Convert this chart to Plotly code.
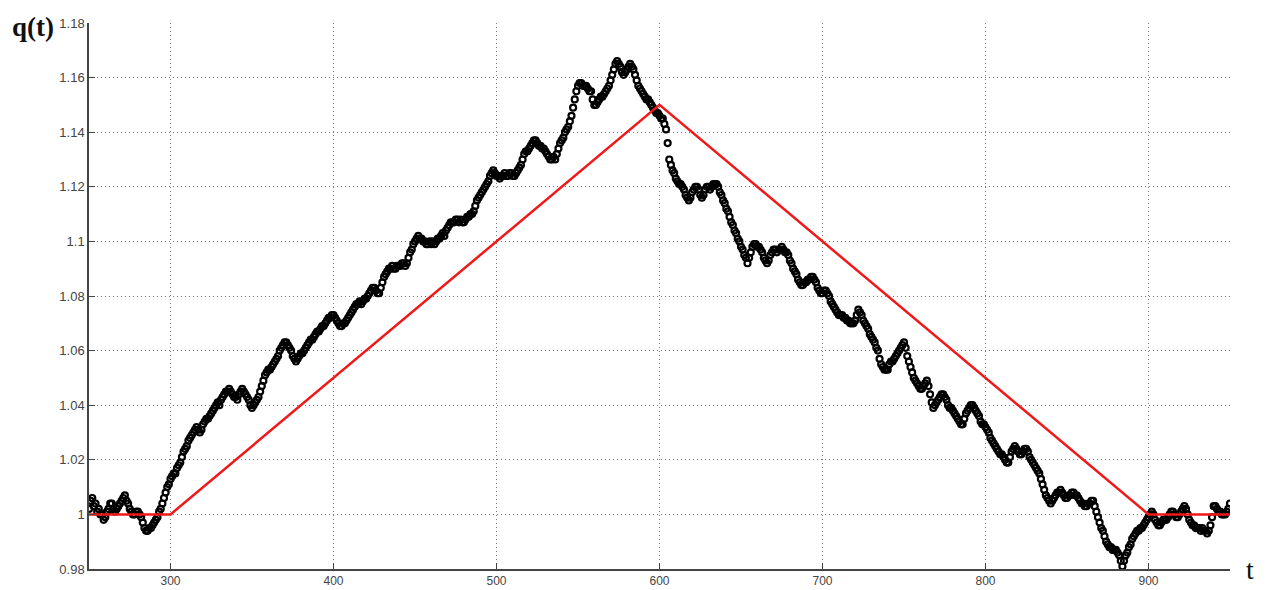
import plotly.graph_objects as go

# Observed trajectory q(t), one sample per time step from t = 250 to t = 950
t_start = 250
q_observed = [
    1.002, 1.005, 1.006, 1.003, 1.004, 1.001, 1.002, 1.000, 1.000, 0.998,  # 250
    0.999, 1.001, 1.002, 1.004, 1.004, 1.002, 1.001, 1.002, 1.003, 1.004,  # 260
    1.005, 1.006, 1.007, 1.005, 1.004, 1.002, 1.001, 1.000, 1.000, 1.001,  # 270
    1.001, 1.000, 0.999, 0.997, 0.995, 0.994, 0.994, 0.995, 0.995, 0.996,  # 280
    0.997, 0.998, 0.999, 1.001, 1.002, 1.004, 1.006, 1.008, 1.010, 1.011,  # 290
    1.013, 1.014, 1.015, 1.015, 1.017, 1.018, 1.019, 1.021, 1.023, 1.024,  # 300
    1.025, 1.027, 1.028, 1.029, 1.030, 1.031, 1.032, 1.031, 1.030, 1.031,  # 310
    1.033, 1.034, 1.035, 1.035, 1.036, 1.037, 1.038, 1.039, 1.040, 1.041,  # 320
    1.040, 1.042, 1.043, 1.044, 1.045, 1.045, 1.046, 1.045, 1.044, 1.043,  # 330
    1.043, 1.042, 1.044, 1.045, 1.046, 1.045, 1.044, 1.043, 1.042, 1.040,  # 340
    1.039, 1.040, 1.041, 1.042, 1.043, 1.045, 1.047, 1.049, 1.051, 1.052,  # 350
    1.053, 1.053, 1.054, 1.055, 1.056, 1.057, 1.058, 1.060, 1.061, 1.062,  # 360
    1.063, 1.063, 1.062, 1.061, 1.060, 1.058, 1.057, 1.056, 1.057, 1.058,  # 370
    1.059, 1.059, 1.060, 1.061, 1.062, 1.063, 1.064, 1.064, 1.065, 1.066,  # 380
    1.067, 1.067, 1.068, 1.069, 1.069, 1.070, 1.071, 1.072, 1.072, 1.073,  # 390
    1.073, 1.072, 1.071, 1.070, 1.069, 1.069, 1.070, 1.070, 1.071, 1.072,  # 400
    1.073, 1.074, 1.075, 1.076, 1.077, 1.077, 1.078, 1.077, 1.078, 1.079,  # 410
    1.079, 1.080, 1.081, 1.082, 1.083, 1.083, 1.082, 1.081, 1.081, 1.083,  # 420
    1.085, 1.087, 1.088, 1.089, 1.090, 1.090, 1.091, 1.090, 1.090, 1.091,  # 430
    1.091, 1.091, 1.092, 1.092, 1.091, 1.092, 1.094, 1.096, 1.097, 1.099,  # 440
    1.100, 1.101, 1.102, 1.101, 1.101, 1.100, 1.100, 1.099, 1.099, 1.100,  # 450
    1.099, 1.100, 1.099, 1.100, 1.101, 1.101, 1.102, 1.103, 1.102, 1.104,  # 460
    1.105, 1.106, 1.107, 1.107, 1.107, 1.108, 1.108, 1.107, 1.108, 1.107,  # 470
    1.107, 1.108, 1.109, 1.109, 1.110, 1.110, 1.111, 1.113, 1.115, 1.116,  # 480
    1.117, 1.118, 1.119, 1.120, 1.121, 1.122, 1.124, 1.125, 1.126, 1.125,  # 490
    1.124, 1.124, 1.123, 1.124, 1.124, 1.125, 1.124, 1.124, 1.125, 1.125,  # 500
    1.124, 1.124, 1.125, 1.126, 1.127, 1.128, 1.130, 1.132, 1.133, 1.133,  # 510
    1.134, 1.135, 1.136, 1.137, 1.137, 1.136, 1.135, 1.135, 1.134, 1.134,  # 520
    1.133, 1.132, 1.131, 1.130, 1.130, 1.131, 1.130, 1.132, 1.134, 1.136,  # 530
    1.137, 1.138, 1.140, 1.141, 1.142, 1.144, 1.146, 1.149, 1.152, 1.155,  # 540
    1.157, 1.158, 1.158, 1.157, 1.157, 1.157, 1.156, 1.155, 1.155, 1.152,  # 550
    1.150, 1.150, 1.151, 1.152, 1.153, 1.153, 1.154, 1.155, 1.156, 1.157,  # 560
    1.159, 1.161, 1.163, 1.165, 1.166, 1.165, 1.164, 1.162, 1.161, 1.162,  # 570
    1.163, 1.164, 1.165, 1.164, 1.163, 1.161, 1.159, 1.157, 1.156, 1.155,  # 580
    1.154, 1.153, 1.152, 1.152, 1.151, 1.150, 1.149, 1.148, 1.147, 1.147,  # 590
    1.146, 1.145, 1.145, 1.143, 1.141, 1.136, 1.130, 1.128, 1.126, 1.125,  # 600
    1.123, 1.122, 1.121, 1.121, 1.120, 1.119, 1.117, 1.116, 1.115, 1.116,  # 610
    1.118, 1.119, 1.120, 1.120, 1.119, 1.117, 1.116, 1.117, 1.119, 1.120,  # 620
    1.120, 1.119, 1.120, 1.121, 1.121, 1.121, 1.120, 1.118, 1.117, 1.115,  # 630
    1.114, 1.112, 1.111, 1.109, 1.107, 1.106, 1.104, 1.103, 1.101, 1.100,  # 640
    1.098, 1.097, 1.095, 1.094, 1.092, 1.094, 1.096, 1.098, 1.099, 1.099,  # 650
    1.098, 1.098, 1.097, 1.096, 1.094, 1.093, 1.092, 1.093, 1.095, 1.096,  # 660
    1.097, 1.097, 1.096, 1.097, 1.097, 1.098, 1.097, 1.096, 1.096, 1.095,  # 670
    1.093, 1.092, 1.090, 1.089, 1.088, 1.086, 1.085, 1.084, 1.084, 1.085,  # 680
    1.085, 1.086, 1.086, 1.087, 1.087, 1.086, 1.085, 1.083, 1.082, 1.081,  # 690
    1.081, 1.082, 1.082, 1.081, 1.080, 1.078, 1.077, 1.076, 1.075, 1.074,  # 700
    1.073, 1.073, 1.073, 1.072, 1.072, 1.071, 1.071, 1.070, 1.070, 1.070,  # 710
    1.071, 1.073, 1.075, 1.074, 1.073, 1.071, 1.070, 1.069, 1.068, 1.066,  # 720
    1.065, 1.064, 1.063, 1.061, 1.060, 1.057, 1.055, 1.054, 1.053, 1.053,  # 730
    1.053, 1.055, 1.056, 1.056, 1.057, 1.058, 1.059, 1.060, 1.061, 1.062,  # 740
    1.063, 1.061, 1.058, 1.056, 1.054, 1.052, 1.050, 1.049, 1.048, 1.047,  # 750
    1.046, 1.046, 1.047, 1.048, 1.049, 1.047, 1.044, 1.041, 1.039, 1.040,  # 760
    1.041, 1.042, 1.043, 1.044, 1.044, 1.043, 1.042, 1.040, 1.039, 1.039,  # 770
    1.038, 1.037, 1.036, 1.035, 1.034, 1.033, 1.033, 1.035, 1.037, 1.038,  # 780
    1.039, 1.040, 1.040, 1.039, 1.038, 1.037, 1.036, 1.034, 1.033, 1.033,  # 790
    1.032, 1.031, 1.030, 1.028, 1.027, 1.026, 1.025, 1.024, 1.023, 1.022,  # 800
    1.022, 1.021, 1.020, 1.019, 1.019, 1.021, 1.023, 1.024, 1.025, 1.024,  # 810
    1.023, 1.022, 1.022, 1.023, 1.024, 1.024, 1.023, 1.021, 1.020, 1.019,  # 820
    1.018, 1.017, 1.016, 1.015, 1.013, 1.011, 1.009, 1.007, 1.006, 1.005,  # 830
    1.004, 1.005, 1.006, 1.007, 1.008, 1.008, 1.009, 1.008, 1.007, 1.006,  # 840
    1.006, 1.007, 1.007, 1.008, 1.008, 1.007, 1.007, 1.006, 1.005, 1.004,  # 850
    1.004, 1.003, 1.003, 1.004, 1.004, 1.005, 1.005, 1.003, 1.001, 0.999,  # 860
    0.997, 0.995, 0.994, 0.992, 0.990, 0.989, 0.988, 0.988, 0.987, 0.987,  # 870
    0.987, 0.986, 0.985, 0.983, 0.981, 0.983, 0.985, 0.986, 0.988, 0.989,  # 880
    0.991, 0.992, 0.993, 0.994, 0.994, 0.995, 0.995, 0.996, 0.997, 0.998,  # 890
    0.999, 1.000, 1.001, 1.000, 0.998, 0.997, 0.996, 0.996, 0.997, 0.998,  # 900
    0.998, 0.998, 0.999, 1.000, 1.001, 1.001, 1.000, 0.999, 0.999, 1.000,  # 910
    1.001, 1.002, 1.003, 1.002, 1.000, 0.998, 0.997, 0.996, 0.996, 0.995,  # 920
    0.995, 0.995, 0.994, 0.995, 0.994, 0.994, 0.993, 0.994, 0.996, 0.999,  # 930
    1.003, 1.003, 1.002, 1.001, 1.001, 1.000, 1.000, 1.000, 1.001, 1.002,  # 940
    1.004,                                                                 # 950
]
t_observed = [t_start + i for i in range(len(q_observed))]

# Piecewise-linear reference profile
t_profile = [250, 300, 600, 900, 950]
q_profile = [1.00, 1.00, 1.15, 1.00, 1.00]

# Axis ticks
x_tickvals = [300, 400, 500, 600, 700, 800, 900]
x_ticktext = ["300", "400", "500", "600", "700", "800", "900"]
y_tickvals = [0.98, 1.00, 1.02, 1.04, 1.06, 1.08, 1.10, 1.12, 1.14, 1.16, 1.18]
y_ticktext = ["0.98", "1", "1.02", "1.04", "1.06", "1.08", "1.1", "1.12", "1.14", "1.16", "1.18"]

fig = go.Figure()

fig.add_trace(go.Scatter(
    x=t_observed, y=q_observed, mode="markers",
    marker=dict(symbol="circle-open", size=6, color="black",
                line=dict(color="black", width=2.2)),
    showlegend=False, hoverinfo="x+y",
))

fig.add_trace(go.Scatter(
    x=t_profile, y=q_profile, mode="lines",
    line=dict(color="#f01818", width=2.5),
    showlegend=False, hoverinfo="x+y",
))

axis_common = dict(
    showline=True, linecolor="#444444", linewidth=1.5, mirror=False,
    ticks="inside", ticklen=6, tickwidth=1.2, tickcolor="#444444",
    showgrid=True, gridcolor="#7a7a7a", gridwidth=1, griddash="1px,3px",
    zeroline=False, automargin=False,
)

fig.update_xaxes(range=[250, 950], tickmode="array",
                 tickvals=x_tickvals, ticktext=x_ticktext,
                 tickfont=dict(family="Arial, Liberation Sans, sans-serif", size=12, color="#444444"),
                 **axis_common)
fig.update_yaxes(range=[0.98, 1.18], tickmode="array",
                 tickvals=y_tickvals, ticktext=y_ticktext,
                 tickfont=dict(family="Arial, Liberation Sans, sans-serif", size=13, color="#444444"),
                 **axis_common)

fig.add_annotation(text="<b>q(t)</b>", xref="paper", yref="paper",
                   x=-0.049, y=0.993, xanchor="center", yanchor="middle",
                   showarrow=False,
                   font=dict(family="Liberation Serif, serif", size=27, color="#111111"))
fig.add_annotation(text="t", xref="paper", yref="paper",
                   x=1.0175, y=0.0, xanchor="center", yanchor="middle",
                   showarrow=False,
                   font=dict(family="Liberation Serif, serif", size=28, color="#111111"))

fig.update_layout(
    width=1266, height=590,
    margin=dict(l=89, r=36, t=23, b=21),
    paper_bgcolor="white", plot_bgcolor="white",
)

fig.write_html("out.html")
